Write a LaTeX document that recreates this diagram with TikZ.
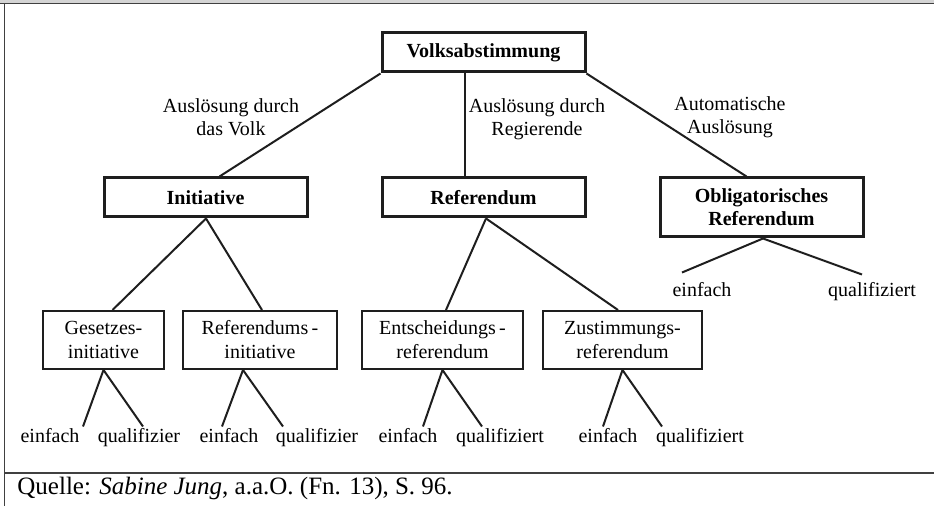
\documentclass[tikz,border=0pt]{standalone}
\usepackage{fontspec}
\setmainfont{Liberation Serif}
\usetikzlibrary{calc}
\definecolor{ink}{HTML}{1E1E1E}
\definecolor{band}{HTML}{D4D4D4}
\definecolor{rule}{HTML}{404040}
\begin{document}
\begin{tikzpicture}[x=0.5pt,y=-0.5pt,
  bigbox/.style={draw=ink, line width=1.5pt, minimum width=101.5pt, minimum height=19.5pt, font=\bfseries, align=center, inner sep=0pt},
  leafbox/.style={draw=ink, line width=1pt, minimum height=29pt, align=center, inner sep=0pt, font=\fontsize{10}{12}\selectfont},
  conn/.style={draw=ink, line width=1pt},
  elbl/.style={align=center, inner sep=0pt, anchor=north, font=\fontsize{10}{11.5}\selectfont},
  leaf/.style={inner sep=0pt, anchor=base}
]
\useasboundingbox (0,0) rectangle (934,506);
% frame
\fill[band] (0,0) rectangle (934,3);
\draw[rule, line width=0.8pt] (0,3.6) -- (934,3.6);
\draw[rule, line width=0.8pt] (4.5,3.6) -- (4.5,506);
\draw[rule, line width=0.8pt] (4.5,473) -- (934,473);

% nodes
\node[bigbox] (volks) at (483.5,52.5) {Volksabstimmung};
\node[bigbox] (init) at (205.5,197.5) {Initiative};
\node[bigbox] (ref) at (483.5,197.5) {Referendum};
\node[bigbox, minimum height=29.5pt, font=\bfseries\fontsize{10}{11.5}\selectfont] (oblig) at (761.5,207.5) {Obligatorisches\\Referendum};

\node[elbl] (l1) at (231,98) {Auslösung durch\\das Volk};
\node[elbl] (l2) at (537,98) {Auslösung durch\\Regierende};
\node[elbl] (l3) at (730,96) {Automatische\\Auslösung};

\node[leafbox, minimum width=60.5pt] (ges) at (103.5,340) {Gesetzes-\\initiative};
\node[leafbox, minimum width=77pt] (refi) at (260,340) {Referendums\,-\\initiative};
\node[leafbox, minimum width=80.5pt] (ent) at (442.5,340) {Entscheidungs\,-\\referendum};
\node[leafbox, minimum width=79.5pt] (zus) at (622.5,340) {Zustimmungs-\\referendum};

\node[leaf] (e1) at (50,443) {einfach};
\node[leaf] (q1) at (139,443) {qualifizier};
\node[leaf] (e2) at (229,443) {einfach};
\node[leaf] (q2) at (317,443) {qualifizier};
\node[leaf] (e3) at (408,443) {einfach};
\node[leaf] (q3) at (500,443) {qualifiziert};
\node[leaf] (e4) at (608,443) {einfach};
\node[leaf] (q4) at (700,443) {qualifiziert};
\node[leaf] (e5) at (702,297) {einfach};
\node[leaf] (q5) at (872,297) {qualifiziert};

\node[inner sep=0pt, anchor=base west, font=\fontsize{12.5}{14}\selectfont] (src) at (17,495) {Quelle: \textit{Sabine Jung}, a.a.O. (Fn. 13), S. 96.};

% connectors
\draw[conn] (volks.south west) -- ($(init.north)+(14,0)$);
\draw[conn] ($(volks.south)+(-18.5,0)$) -- ($(ref.north)+(-18.5,0)$);
\draw[conn] (volks.south east) -- ($(oblig.north)+(-15,0)$);

\draw[conn] ($(init.south)+(0.5,0)$) -- ($(ges.north)+(9,0)$);
\draw[conn] ($(init.south)+(0.5,0)$) -- ($(refi.north)+(2,0)$);
\draw[conn] ($(ref.south)+(2.5,0)$) -- ($(ent.north)+(3.5,0)$);
\draw[conn] ($(ref.south)+(2.5,0)$) -- ($(zus.north)+(-4.5,0)$);

\draw[conn] ($(oblig.south)+(1.5,0)$) -- ($(e5.north)+(-20,-10)$);
\draw[conn] ($(oblig.south)+(1.5,0)$) -- ($(q5.north)+(-10,-8)$);

\draw[conn] (ges.south) -- ($(e1.north)+(33,-2)$);
\draw[conn] (ges.south) -- ($(q1.north)+(4,-2)$);
\draw[conn] ($(refi.south)+(-17,0)$) -- ($(e2.north)+(-7,-2)$);
\draw[conn] ($(refi.south)+(-17,0)$) -- ($(q2.north)+(-34,-2)$);
\draw[conn] (ent.south) -- ($(e3.north)+(15,-2)$);
\draw[conn] (ent.south) -- ($(q3.north)+(-18,-2)$);
\draw[conn] (zus.south) -- ($(e4.north)+(-5,-2)$);
\draw[conn] (zus.south) -- ($(q4.north)+(-38,-2)$);
\end{tikzpicture}
\end{document}
